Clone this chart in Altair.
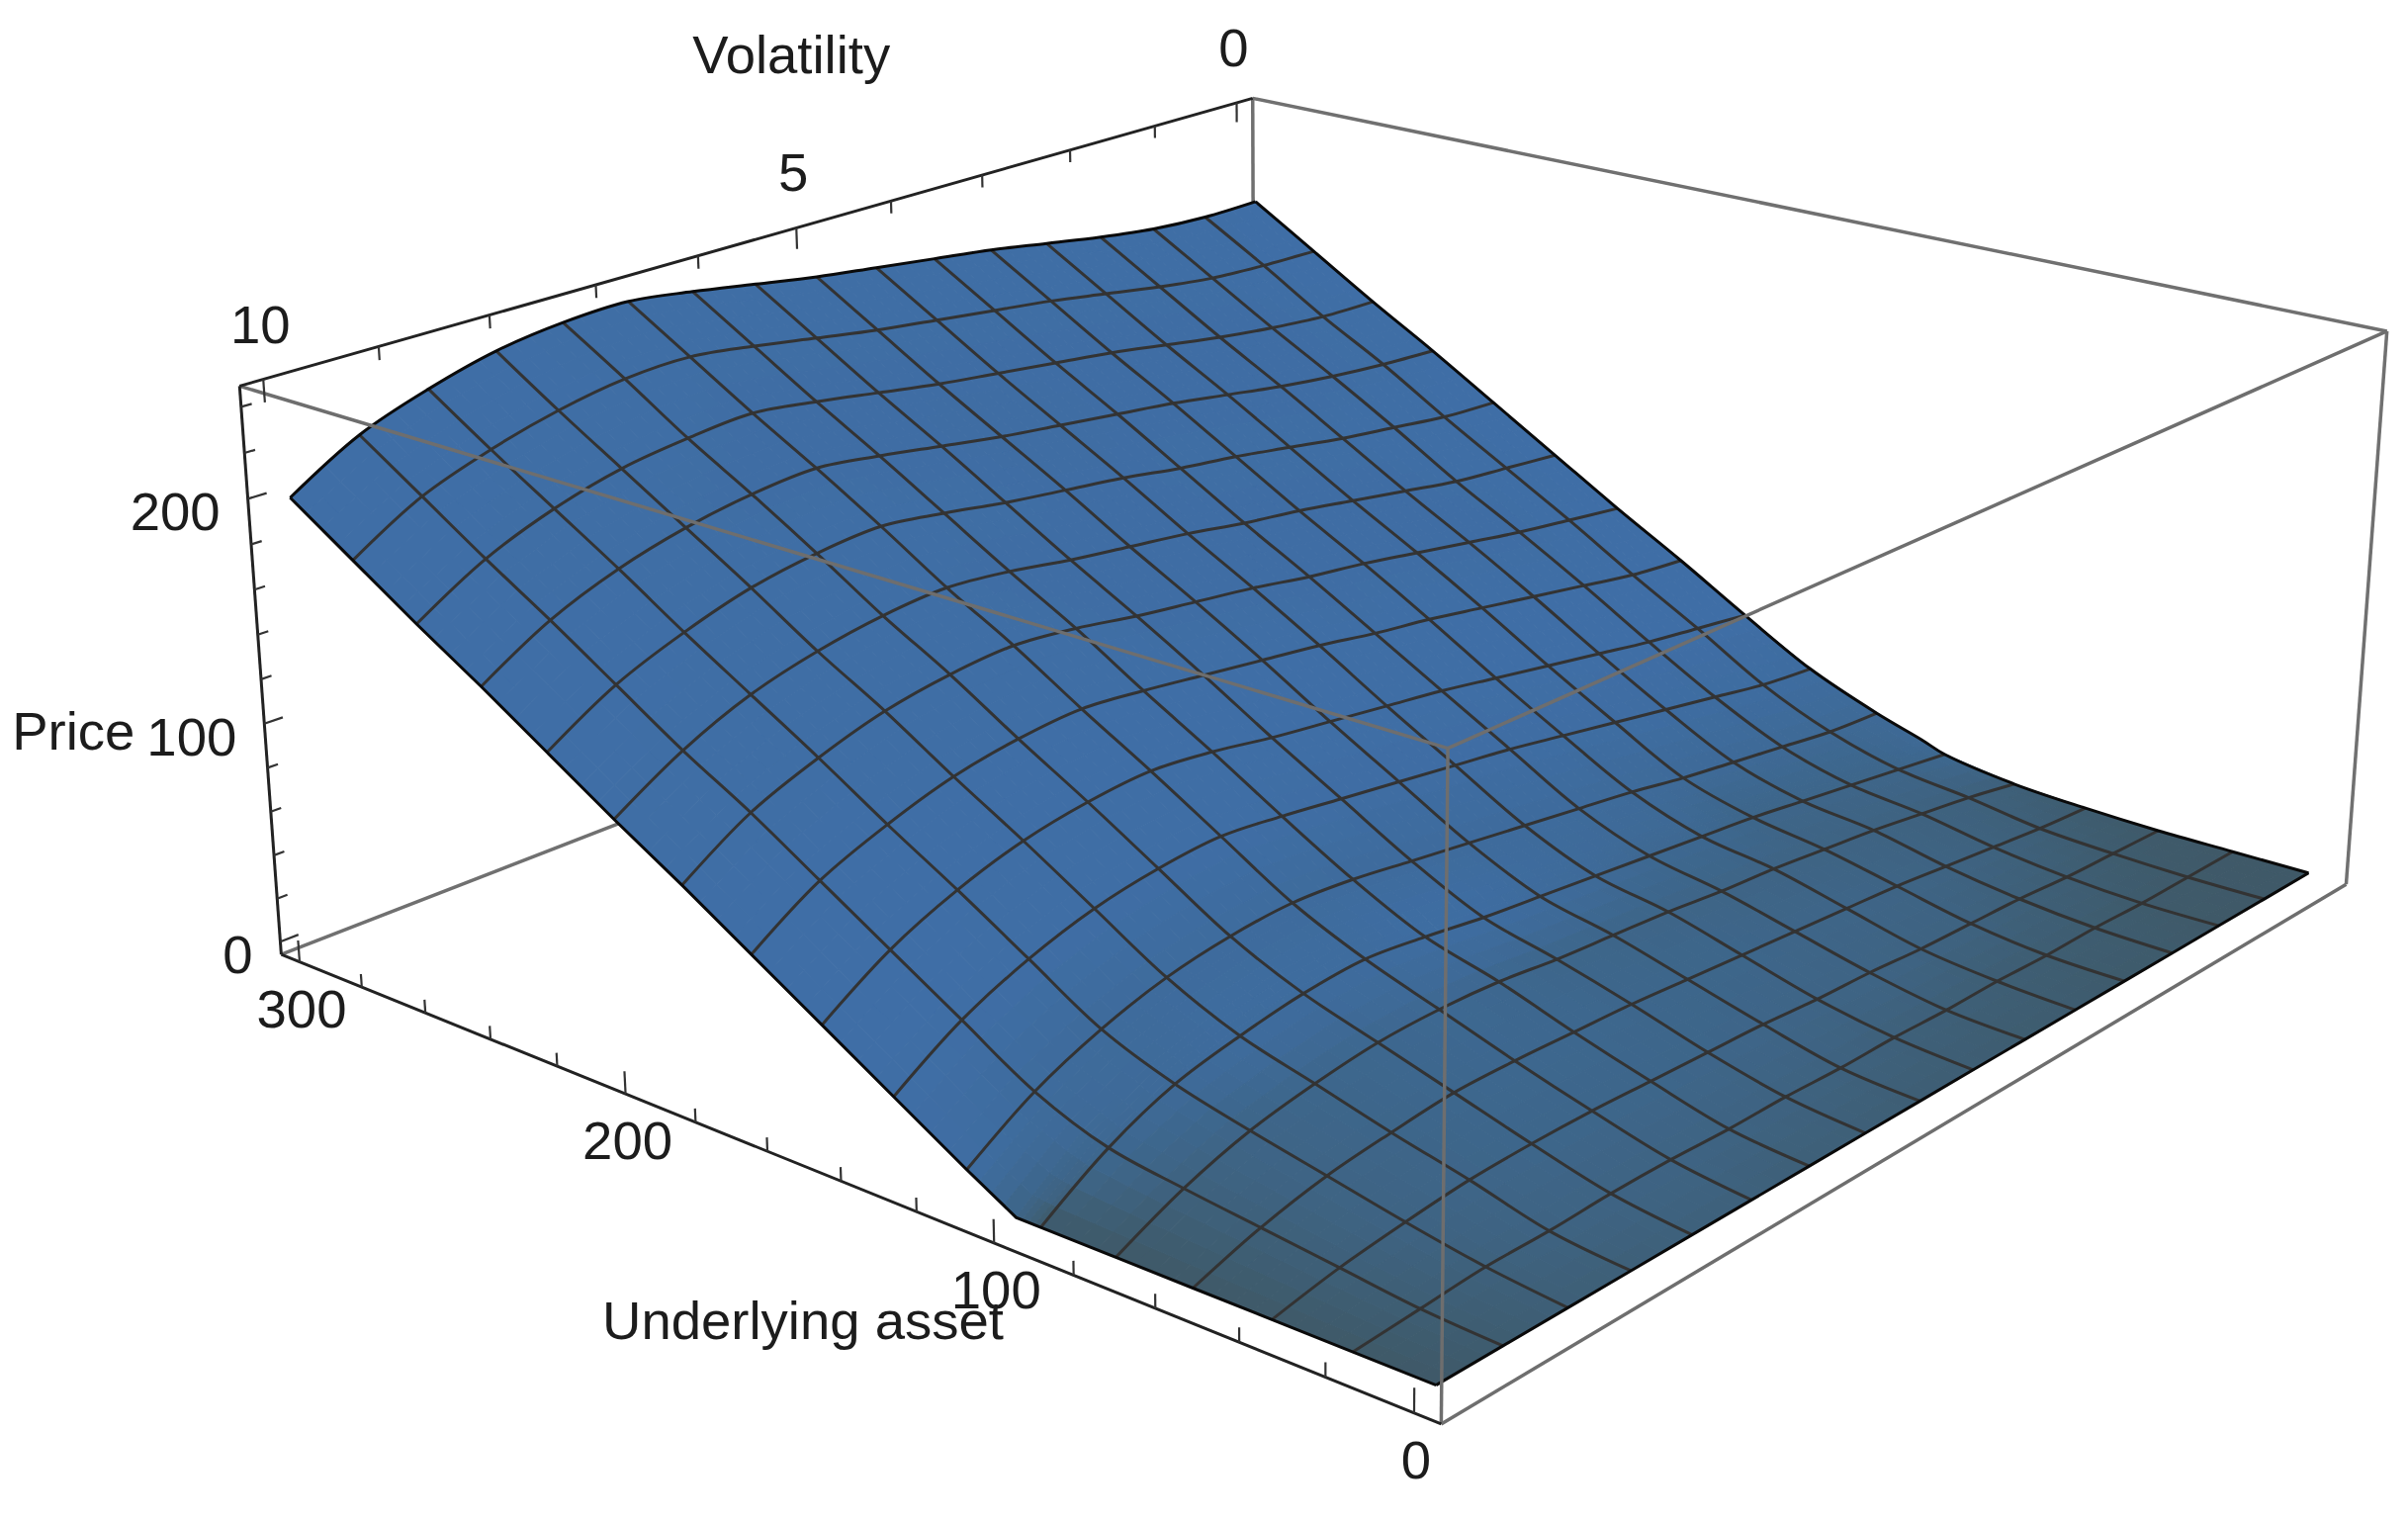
import numpy as np
import pandas as pd
import altair as alt

# ---------- values ----------
ASSET = [300, 281.25, 262.5, 243.75, 225, 206.25, 187.5, 168.75, 150, 131.25, 112.5, 100, 93.75, 75, 56.25, 37.5, 18.75, 0]
VOL = [10, 9.375, 8.75, 8.125, 7.5, 6.875, 6.25, 5.625, 5, 4.375, 3.75, 3.125, 2.5, 1.875, 1.25, 0.625, 0]
PRICE = [
 [200,218,229,237,241,242,238,233,228,224,220,216,211,206,202,200,200],
 [181,199,210,218,223,224,220,215,210,206,202,198,193,188,184,182,181],
 [162,180,192,200,204,206,202,197,192,188,184,180,175,170,166,163,162],
 [144,162,174,182,187,189,185,180,175,171,167,163,158,153,149,146,144],
 [125,143,155,164,169,171,167,162,158,154,149,145,140,135,131,127,125],
 [106,124,137,145,150,152,149,144,140,136,131,127,122,117,112,109,106],
 [88,107,119,128,133,135,132,127,123,119,114,110,105,100,95,91,87],
 [69,88,100,109,114,116,113,109,105,101,96,92,87,82,77,72,69],
 [50,69,82,91,96,98,95,90,86,82,78,73,68,63,58,54,50],
 [31,50,63,72,77,79,76,72,68,64,60,55,50,45,40,35,32],
 [12,31,44,53,58,60,58,54,50,46,42,38,33,29,25,21,19],
 [0,23,37,45,50,52,50,46,42,38,34,31,27,23,19,15,12],
 [0,19,32,39,44,46,43,39,36,33,30,27,24,20,16,12,8],
 [0,14,24,30,34,35,34,31,29,27,24,22,19,16,12,8,3],
 [0,10,17,21,24,24,23,22,20,18,16,14,12,9,6,3,1],
 [0,6,10,13,14,14,13,12,11,9,8,6,5,4,2,1,0],
 [0,2,4,4,5,5,4,4,3,3,2,2,1,1,0,0,0],
 [0,0,0,0,0,0,0,0,0,0,0,0,0,0,0,0,0],
]
ASSET_TICKS = list(range(0, 301, 20))
VOL_TICKS = list(range(0, 11))
PRICE_TICKS = list(range(0, 241, 20))
ASSET_LABELS = [0, 100, 200, 300]
VOL_LABELS = [0, 5, 10]
PRICE_LABELS = [0, 100, 200]

# box limits of the 3D frame
A0, A1, V0, V1, P0, P1 = -6, 306, -0.2, 10.2, -6, 249

# camera calibration: frame corners -> page pixels
CAL_3D = [(A1,V1,P1),(A1,V1,P0),(A0,V1,P1),(A0,V1,P0),(A1,V0,P1),(A1,V0,P0),(A0,V0,P1),(A0,V0,P0)]
CAL_2D = [(241,389.5),(286,968),(1464,755),(1457,1439),(1268,101),(1267,580),(2413.5,335),(2373,896)]

def solve_camera():
    rows = []
    for (a, v, p), (x, y) in zip(CAL_3D, CAL_2D):
        X = [a/300, v/10, p/250, 1]
        x, y = x/2000, y/2000
        rows.append(X + [0,0,0,0] + [-x*c for c in X])
        rows.append([0,0,0,0] + X + [-y*c for c in X])
    return np.linalg.svd(np.array(rows))[2][-1].reshape(3, 4)

CAM = solve_camera()

def project(a, v, p):
    h = CAM @ np.array([a/300, v/10, p/250, 1.0])
    return float(h[0]/h[2]*2000), float(h[1]/h[2]*2000)

# ---------- build tables ----------
Pm = np.array(PRICE, dtype=float)
A = np.array(ASSET, dtype=float)
V = np.array(VOL, dtype=float)
slope = np.abs(np.gradient(Pm, A, axis=0))
SUB = 4

cells = []
cid = 0
for i in range(len(A)-1):
    for j in range(len(V)-1):
        for si in range(SUB):
            for sj in range(SUB):
                u0, u1 = si/SUB, (si+1)/SUB
                w0, w1 = sj/SUB, (sj+1)/SUB
                def corner(u, w):
                    return ((1-u)*(1-w)*Pm[i,j] + (1-u)*w*Pm[i,j+1] + u*(1-w)*Pm[i+1,j] + u*w*Pm[i+1,j+1],
                            A[i]+(A[i+1]-A[i])*u, V[j]+(V[j+1]-V[j])*w)
                um, wm = (u0+u1)/2, (w0+w1)/2
                shade = ((1-um)*(1-wm)*slope[i,j] + (1-um)*wm*slope[i,j+1] + um*(1-wm)*slope[i+1,j] + um*wm*slope[i+1,j+1])
                am = A[i]+(A[i+1]-A[i])*um
                shade = shade*(0.7+0.3*min(am/150, 1.0))
                for k, (u, w) in enumerate([(u0,w0),(u1,w0),(u1,w1),(u0,w1),(u0,w0)]):
                    p, a, v = corner(u, w)
                    x, y = project(a, v, p)
                    cells.append(dict(cell=cid, ord=k, px=round(x,1), py=round(y,1), shade=round(min(float(shade), 1.0),3)))
                cid += 1
cells = pd.DataFrame(cells)

def polylines(paths):
    out = []
    for s, pts in enumerate(paths):
        for k, (a, v, p) in enumerate(pts):
            x, y = project(a, v, p)
            out.append(dict(seg=s, ord=k, px=x, py=y))
    return pd.DataFrame(out)

mesh_paths = []
for i, a in enumerate(ASSET):
    if a in (300, 100, 0):
        continue
    mesh_paths.append([(a, v, Pm[i, j]) for j, v in enumerate(VOL)])
for j, v in enumerate(VOL):
    if j in (0, len(VOL)-1):
        continue
    mesh_paths.append([(a, v, Pm[i, j]) for i, a in enumerate(ASSET) if a != 100])

outline_smooth = [
    [(300, v, Pm[0, j]) for j, v in enumerate(VOL)],
    [(a, 0, Pm[i, -1]) for i, a in enumerate(ASSET)],
]
outline_straight = [
    [(0, v, Pm[-1, j]) for j, v in enumerate(VOL)],
    [(a, 10, Pm[i, 0]) for i, a in enumerate(ASSET)],
]

back_edges = [[(A1,V0,P1),(A0,V0,P1)], [(A0,V0,P1),(A0,V0,P0)], [(A1,V0,P1),(A1,V0,P0)], [(A1,V1,P0),(A1,V0,P0)]]
front_edges = [[(A1,V1,P1),(A0,V1,P1)], [(A0,V1,P1),(A0,V0,P1)], [(A0,V1,P1),(A0,V1,P0)], [(A0,V1,P0),(A0,V0,P0)]]
axis_edges = [[(A1,V1,P1),(A1,V0,P1)], [(A1,V1,P1),(A1,V1,P0)], [(A1,V1,P0),(A0,V1,P0)]]

ticks = []
for a in ASSET_TICKS:
    ticks.append([(a, V1, P0), (a, V1, P0 + (10 if a in ASSET_LABELS else 6))])
for v in VOL_TICKS:
    ticks.append([(A1, v, P1), (A1, v, P1 - (10 if v in VOL_LABELS else 6))])
for p in PRICE_TICKS:
    ticks.append([(A1, V1, p), (A1, V1 - (0.16 if p in PRICE_LABELS else 0.09), p)])

labels = []
for a in ASSET_LABELS:
    x, y = project(a, V1, P0)
    labels.append(dict(t=str(a), px=x+2, py=y+50, al="center"))
for v in VOL_LABELS:
    x, y = project(A1, v, P1)
    labels.append(dict(t=str(v), px=x-3, py=y-53, al="center"))
for p in PRICE_LABELS:
    x, y = project(A1, V1, p)
    labels.append(dict(t=str(p), px=x-28, py=y+16, al="right"))
x, y = project(A1, 5, P1); labels.append(dict(t="Volatility", px=x-5, py=y-172, al="center"))
x, y = project(A1, V1, 100); labels.append(dict(t="Price", px=x-193, py=y+10, al="center"))
x, y = project(150, V1, P0); labels.append(dict(t="Underlying asset", px=x-1, py=y+159, al="center"))
labels = pd.DataFrame(labels)

# ---------- chart ----------
W, H = 2419, 1521
xe = alt.X("px:Q", axis=None, scale=alt.Scale(domain=[8, 8+W], nice=False, zero=False))
ye = alt.Y("py:Q", axis=None, scale=alt.Scale(domain=[8+H, 8], nice=False, zero=False))

def line_layer(paths, color, width, interp="linear"):
    return alt.Chart(polylines(paths)).mark_line(color=color, strokeWidth=width, interpolate=interp).encode(
        x=xe, y=ye, detail="seg:N", order="ord:Q")

shade_scale = alt.Scale(domain=[0, 0.25, 0.6, 1], range=["#3f5968", "#3e6382", "#3e6a98", "#3f6ea6"])
surface = alt.Chart(cells).mark_line(strokeWidth=1, strokeJoin="round").encode(
    x=xe, y=ye, detail="cell:N", order="ord:Q",
    fill=alt.Fill("shade:Q", scale=shade_scale, legend=None),
    stroke=alt.Stroke("shade:Q", scale=shade_scale, legend=None),
)

FS = 54.5
text_c = alt.Chart(labels[labels.al == "center"]).mark_text(font="Liberation Sans", fontSize=FS, color="#1c1c1c", baseline="middle", align="center").encode(x=xe, y=ye, text="t:N")
text_r = alt.Chart(labels[labels.al == "right"]).mark_text(font="Liberation Sans", fontSize=FS, color="#1c1c1c", baseline="middle", align="right").encode(x=xe, y=ye, text="t:N")

chart = alt.layer(
    line_layer(back_edges, "#707070", 3.5),
    surface,
    line_layer(mesh_paths, "#333333", 3, "catmull-rom"),
    line_layer(outline_smooth, "#0a0a0a", 3, "catmull-rom"),
    line_layer(outline_straight, "#0a0a0a", 3),
    line_layer(front_edges, "#6e6e6e", 3.5),
    line_layer(axis_edges, "#222222", 3),
    line_layer(ticks, "#333333", 2.2),
    text_c, text_r,
).properties(
    width=W, height=H, padding=0, autosize=alt.AutoSizeParams(type="none"),
).configure_view(stroke=None)

chart.save("out.html", embed_options={"renderer": "svg", "actions": False})
